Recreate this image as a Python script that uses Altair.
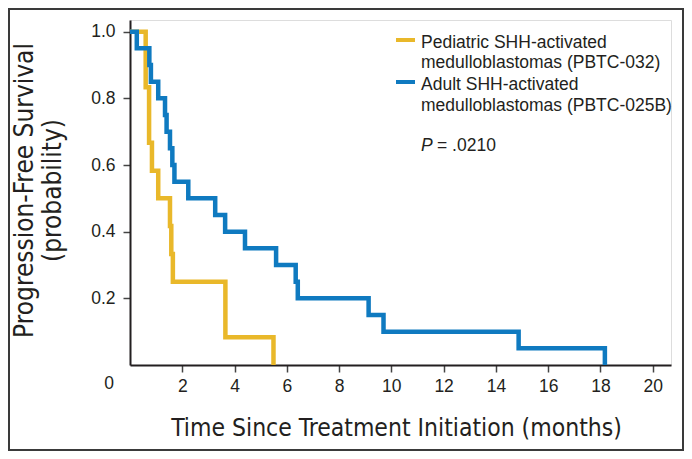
import altair as alt
import pandas as pd

# ---- data ----
ped_times = [0.0, 0.60, 0.73, 0.84, 1.08, 1.53, 1.58, 1.64, 3.65, 5.49]
ped_surv = [1.0, 0.833, 0.667, 0.583, 0.5, 0.417, 0.333, 0.25, 0.083, 0.0]

adult_times = [0.0, 0.26, 0.74, 0.80, 1.08, 1.34, 1.40, 1.53, 1.62, 1.70, 2.23,
               3.26, 3.64, 4.40, 5.59, 6.34, 6.42, 9.13, 9.70, 14.87, 18.17]
adult_surv = [1.0, 0.95, 0.90, 0.85, 0.80, 0.75, 0.70, 0.65, 0.60, 0.55, 0.50,
              0.45, 0.40, 0.35, 0.30, 0.25, 0.20, 0.15, 0.10, 0.05, 0.0]

x_ticks = [2, 4, 6, 8, 10, 12, 14, 16, 18, 20]
y_ticks = [0.2, 0.4, 0.6, 0.8, 1.0]
legend_lines_ped = ["Pediatric SHH-activated", "medulloblastomas (PBTC-032)"]
legend_lines_adult = ["Adult SHH-activated", "medulloblastomas (PBTC-025B)"]
p_label = "P"
p_value = "= .0210"
origin_label = "0"
x_title = "Time Since Treatment Initiation (months)"
y_title = ["Progression-Free Survival", "(probability)"]

YELLOW = "#E9B82A"
BLUE = "#0F7AC0"
INK = "#231F20"
NARROW = "DejaVu Sans Condensed, Liberation Sans, sans-serif"
REG = "Liberation Sans, Arial, Helvetica, sans-serif"

W, H = 541, 345

ped_df = pd.DataFrame({"time": ped_times, "surv": ped_surv})
adult_df = pd.DataFrame({"time": adult_times, "surv": adult_surv})
one = pd.DataFrame({"k": [0]})

xscale = alt.Scale(domain=[0, 20.7], nice=False, zero=True)
yscale = alt.Scale(domain=[0, 1.035], nice=False, zero=True)

x_axis = alt.Axis(values=x_ticks, format="d", title=x_title, grid=False,
                  titleFont=NARROW, titleFontSize=24.5, titleFontWeight="normal",
                  titleColor=INK, titleX=266, titleY=70, titleAlign="center",
                  titleBaseline="alphabetic",
                  labelFont=REG, labelFontSize=17.5, labelColor=INK, labelPadding=5,
                  tickSize=7, tickColor="#444444", tickWidth=1.5,
                  domainColor=INK, domainWidth=2)
y_axis = alt.Axis(values=y_ticks, format=".1f", title=y_title, grid=False,
                  titleFont=NARROW, titleFontSize=26, titleFontWeight="normal",
                  titleColor=INK, titleX=-98, titleY=170, titleAngle=270,
                  titleAlign="center", titleBaseline="alphabetic", titleLineHeight=28,
                  labelFont=REG, labelFontSize=17.5, labelColor=INK, labelPadding=8,
                  tickSize=7, tickColor="#444444", tickWidth=1.5,
                  domainColor=INK, domainWidth=2)

ped = alt.Chart(ped_df).mark_line(interpolate="step-after", color=YELLOW,
                                  strokeWidth=4.5, strokeCap="butt").encode(
    x=alt.X("time:Q", scale=xscale, axis=x_axis),
    y=alt.Y("surv:Q", scale=yscale, axis=y_axis),
)
adult = alt.Chart(adult_df).mark_line(interpolate="step-after", color=BLUE,
                                      strokeWidth=4.5, strokeCap="butt").encode(
    x=alt.X("time:Q", scale=xscale),
    y=alt.Y("surv:Q", scale=yscale),
)

def txt(s, x, y, font=REG, size=17.5, style="normal", align="left", baseline="alphabetic"):
    return alt.Chart(one).mark_text(font=font, fontSize=size, fontStyle=style,
                                    align=align, baseline=baseline, color=INK).encode(
        x=alt.value(x), y=alt.value(y), text=alt.value(s))

def swatch(color, y):
    return alt.Chart(one).mark_rule(color=color, strokeWidth=4).encode(
        x=alt.value(266), x2=alt.value(285), y=alt.value(y))

layers = [ped, adult,
          swatch(YELLOW, 20), swatch(BLUE, 62),
          txt(legend_lines_ped[0], 291, 28), txt(legend_lines_ped[1], 291, 48),
          txt(legend_lines_adult[0], 291, 70), txt(legend_lines_adult[1], 291, 91),
          txt(p_label, 291, 131, style="italic"), txt(p_value, 307, 131),
          txt(origin_label, -21, 364, align="center", baseline="middle"),
          alt.Chart(one).mark_rect(filled=False, stroke="#3a3a3a", strokeWidth=2).encode(
              x=alt.value(-121), x2=alt.value(553), y=alt.value(-11), y2=alt.value(430)),
          ]

chart = alt.layer(*layers).properties(
    width=W, height=H,
    autosize=alt.AutoSizeParams(type="none"),
    padding={"left": 122, "top": 12, "right": 13, "bottom": 86},
).configure_view(stroke=None).configure(background="white")

chart.save("out.html", embed_options={"renderer": "svg", "actions": False})
